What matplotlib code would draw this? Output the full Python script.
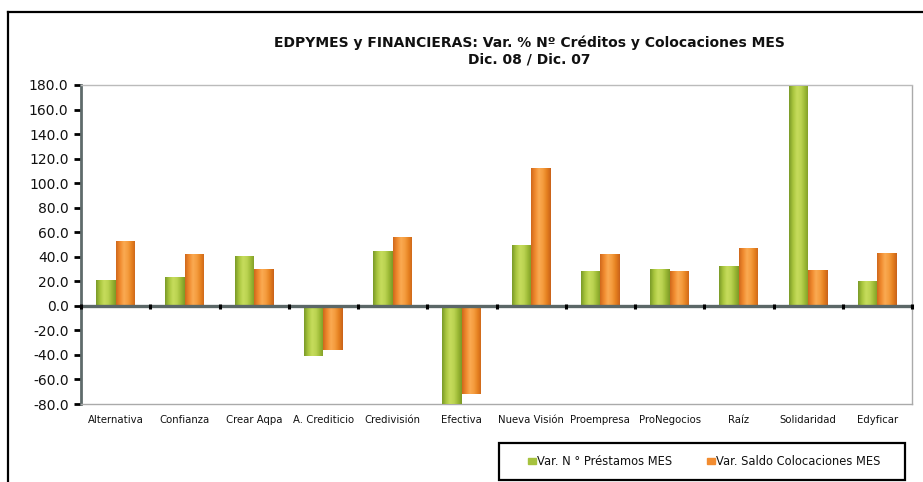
import numpy as np
import matplotlib
matplotlib.use("Agg")
import matplotlib.pyplot as plt
from matplotlib.lines import Line2D
from matplotlib.colors import LinearSegmentedColormap
from matplotlib.patches import Rectangle

categories = ["Alternativa", "Confianza", "Crear Aqpa", "A. Crediticio", "Credivisión",
              "Efectiva", "Nueva Visión", "Proempresa", "ProNegocios", "Raíz",
              "Solidaridad", "Edyficar"]
prestamos = [21.0, 23.5, 40.5, -40.5, 45.0, -85.0, 50.0, 28.5, 30.0, 32.5, 179.0, 20.5]
colocaciones = [53.0, 42.5, 30.0, -36.0, 56.0, -72.0, 112.5, 42.0, 28.5, 47.5, 29.5, 43.0]
series_names = ["Var. N ° Préstamos MES", "Var. Saldo Colocaciones MES"]
title = "EDPYMES y FINANCIERAS: Var. % Nº Créditos y Colocaciones MES\nDic. 08 / Dic. 07"
yticks = [-80, -60, -40, -20, 0, 20, 40, 60, 80, 100, 120, 140, 160, 180]

W, H = 923, 482
fig = plt.figure(figsize=(W / 100, H / 100), dpi=100)
fig.patch.set_facecolor("white")

# outer frame (left and top visible)
fig.add_artist(Line2D([8 / W, 8 / W], [0, 1 - 12 / H], color="black", lw=1.6,
                      transform=fig.transFigure))
fig.add_artist(Line2D([8 / W, 1], [1 - 12 / H, 1 - 12 / H], color="black", lw=1.6,
                      transform=fig.transFigure))

ax = fig.add_axes([81 / W, 1 - 404 / H, (912 - 81) / W, (404 - 85) / H])
x = np.arange(len(categories))
bw = 0.28

green_cmap = LinearSegmentedColormap.from_list(
    "g", ["#7A9A28", "#A9C63E", "#C6DC5C", "#BCD452", "#9DBA36", "#7C9A26"])
orange_cmap = LinearSegmentedColormap.from_list(
    "o", ["#CF681C", "#F08A2E", "#FAAA52", "#F59C3E", "#E5801F", "#C9621A"])

b1 = ax.bar(x - bw / 2, prestamos, bw, color="#A6C23E", zorder=3, linewidth=0)
b2 = ax.bar(x + bw / 2, colocaciones, bw, color="#F28C30", zorder=3, linewidth=0)

grad = np.linspace(0, 1, 64).reshape(1, -1)
for bars, cmap in ((b1, green_cmap), (b2, orange_cmap)):
    for p in bars:
        x0 = p.get_x()
        w = p.get_width()
        y0 = p.get_y()
        h = p.get_height()
        im = ax.imshow(grad, cmap=cmap, aspect="auto", zorder=3.5,
                       extent=[x0, x0 + w, min(y0, y0 + h), max(y0, y0 + h)],
                       interpolation="bilinear")
        im.set_clip_path(p.get_path(), p.get_transform())

ax.set_xlim(-0.5, len(categories) - 0.5)
ax.set_ylim(-80, 180)
ax.set_yticks(yticks)
ax.set_yticklabels([f"{v:.1f}" for v in yticks], fontsize=10, color="#111111")
ax.tick_params(axis="y", direction="out", length=5, width=2, color="black", pad=4)

ax.set_xticks(x)
ax.set_xticklabels(categories, fontsize=7.3, color="#111111")
ax.tick_params(axis="x", length=0, pad=8)

# category boundary ticks on the zero line
for b in np.arange(-0.5, len(categories), 1.0):
    ax.plot([b, b], [-2.6, 1.6], color="black", lw=2.2, zorder=6, clip_on=False,
            solid_capstyle="butt")
ax.axhline(0, color="#5B6767", lw=2.4, zorder=5)

ax.spines["left"].set_color("#5F6B6B")
ax.spines["left"].set_linewidth(2)
ax.spines["top"].set_color("#BBBBBB")
ax.spines["top"].set_linewidth(1)
for s in ("right", "bottom"):
    ax.spines[s].set_color("#AAAAAA")
    ax.spines[s].set_linewidth(1)
    ax.spines[s].set_linestyle((0, (1, 1)))

fig.text(529 / W, 1 - 51 / H, title, ha="center", va="center", fontsize=10,
         fontweight="bold", color="#111111", linespacing=1.25)

# legend box
lg = Rectangle((499 / W, 1 - 480 / H), (905 - 499) / W, (480 - 443) / H,
               transform=fig.transFigure, fill=False, edgecolor="black", lw=1.6)
fig.add_artist(lg)
handles = [Rectangle((0, 0), 1, 1, color="#A6C23E"), Rectangle((0, 0), 1, 1, color="#F28C30")]
fig.legend(handles, series_names, loc="center", bbox_to_anchor=(704 / W, 1 - 461.5 / H),
           ncol=2, frameon=False, fontsize=8.3, handlelength=0.7, handleheight=0.5,
           handletextpad=0.1, columnspacing=3.0, labelcolor="#111111")

fig.savefig("out.png", dpi=100, facecolor="white")
